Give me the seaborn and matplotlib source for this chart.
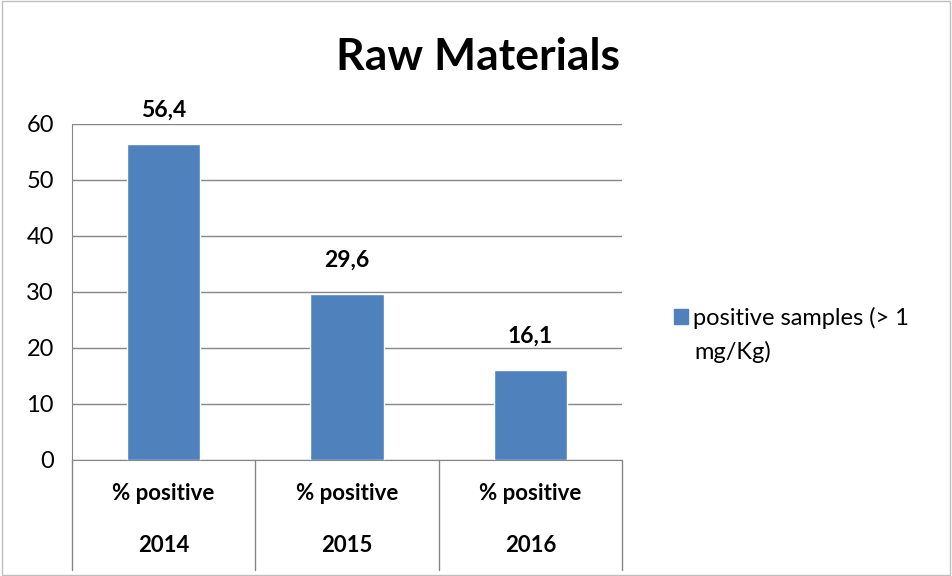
import matplotlib.pyplot as plt
import seaborn as sns
import pandas as pd
from matplotlib.patches import Rectangle, Patch

# --- data ---
years = ["2014", "2015", "2016"]
metric = ["% positive", "% positive", "% positive"]
values = [56.4, 29.6, 16.1]
value_labels = ["56,4", "29,6", "16,1"]
series_name = ["positive samples (> 1", "mg/Kg)"]

df = pd.DataFrame({"year": years, "value": values})

sns.set_style("white")
plt.rcParams["font.family"] = ["Lato", "DejaVu Sans"]
plt.rcParams["text.color"] = "black"
plt.rcParams["ytick.color"] = "black"

grey = "#868686"
blue = "#4F81BD"

fig = plt.figure(figsize=(9.52, 5.76), dpi=100)
ax = fig.add_axes([72 / 952, 116 / 576, 550 / 952, 336 / 576])

sns.barplot(data=df, x="year", y="value", color=blue, width=0.4, ax=ax, saturation=1)

ax.set_ylim(0, 60)
ax.set_xlim(-0.5, 2.5)
ax.set_yticks(range(0, 61, 10))
ax.yaxis.grid(True, color=grey, linewidth=1)
ax.set_axisbelow(True)
for s in ["top", "right"]:
    ax.spines[s].set_visible(False)
ax.spines["left"].set_color(grey)
ax.spines["bottom"].set_color(grey)
ax.tick_params(axis="y", length=8, color=grey, width=1, labelsize=17, pad=5,
               labelcolor="black")
ax.tick_params(axis="x", length=0, labelbottom=False)
ax.set_xlabel("")
ax.set_ylabel("")

# value labels
for i, (v, lab) in enumerate(zip(values, value_labels)):
    ax.annotate(lab, (i, v), xytext=(0, 17), textcoords="offset points",
                ha="center", va="bottom", fontsize=16.5, fontweight="bold")

# two-level category axis
trans = ax.get_xaxis_transform()
for x in [-0.5, 0.5, 1.5, 2.5]:
    ax.plot([x, x], [0, -110 / 336], transform=trans, color=grey,
            linewidth=1, clip_on=False)
for i, (m, y) in enumerate(zip(metric, years)):
    ax.text(i, -34 / 336, m, transform=trans, ha="center", va="center",
            fontsize=16, fontweight="bold")
    ax.text(i, -86 / 336, y, transform=trans, ha="center", va="center",
            fontsize=16, fontweight="bold")

fig.text(478 / 952, 1 - 57 / 576, "Raw Materials", ha="center", va="center",
         fontsize=32, fontweight="bold")

# legend: square aligned with the first line, second line wrapped below
handle = Patch(facecolor=blue, edgecolor=blue)
leg = fig.legend([handle], [series_name[0]], loc="center left",
                 bbox_to_anchor=(674 / 952, 1 - 318 / 576), frameon=False,
                 fontsize=17, handlelength=0.6, handleheight=0.6,
                 handletextpad=0.2, borderpad=0, borderaxespad=0)
fig.text(694 / 952, 1 - 352 / 576, series_name[1], ha="left", va="center",
         fontsize=17)

fig.patches.append(Rectangle((0.002, 0.002), 0.996, 0.996, transform=fig.transFigure,
                             fill=False, edgecolor="#BFBFBF", linewidth=1))

fig.savefig("out.png", dpi=100)
